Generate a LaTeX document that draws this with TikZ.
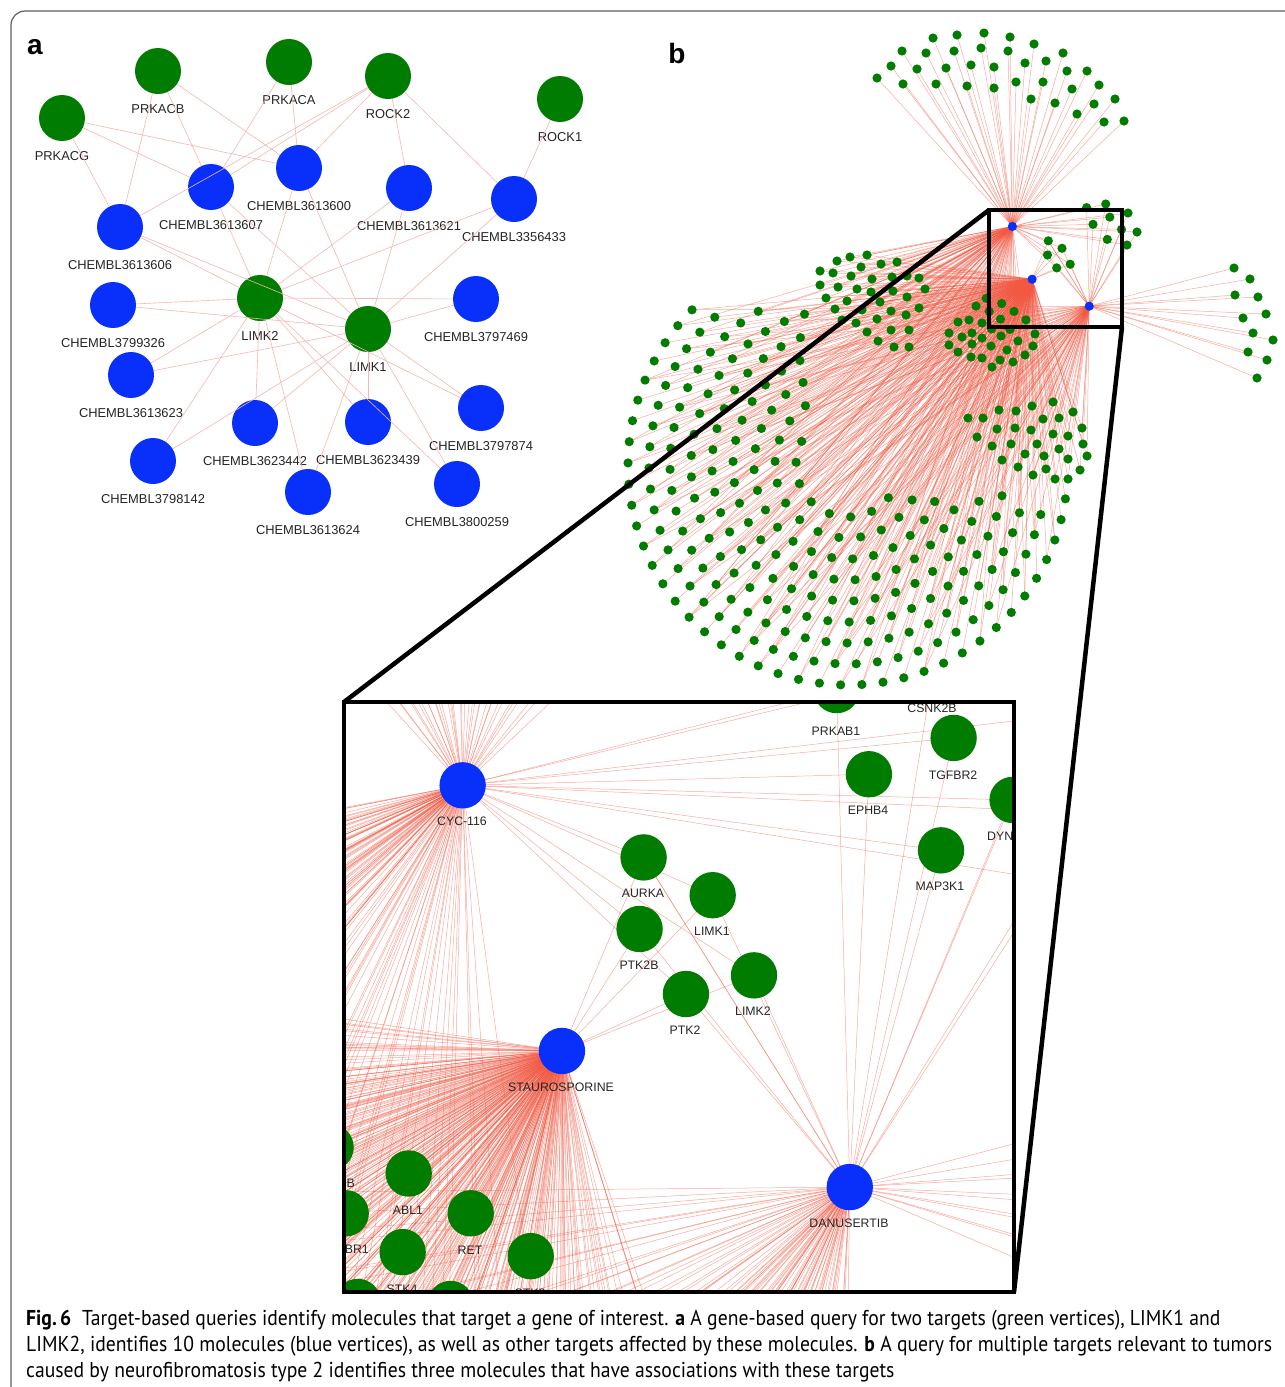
\documentclass[tikz,border=0pt]{standalone}
\usepackage{fontspec}
\setmainfont{Liberation Sans}
\newfontfamily\capfont{PT Sans}
\usepackage{graphicx}
\definecolor{gnode}{RGB}{0,124,0}
\definecolor{bnode}{RGB}{8,48,250}
\definecolor{aedgec}{RGB}{246,182,176}
\definecolor{bedgec}{RGB}{242,88,66}
\definecolor{labc}{RGB}{38,38,38}
\definecolor{framec}{RGB}{95,95,95}

\def\ListTop{877/78,891/66,902/51,933/38,957/35,984/33,1010/37,1034/44,1063/53,1087/71,1099/85,1115/99,1124/121,1104/122,1094/104,1077/114,1072/89,1067/71,1046/61,1025/63,1008/51,981/48,954/51,926/53,917/69,946/68,971/65,994/67,903/84,936/84,967/86,994/88,1016/82,1043/82,1031/99,1055/103}
\def\ListRC{1086.6/207.6,1105.7/204.0,1109.8/217.1,1093.0/224.3,1121.5/229.4,1107.3/239.4,1128/213,1137/232,1127/245}
\def\ListMid{1048.3/240.8,1062.0/248.3,1047.5/255.0,1070.2/264.2,1056.7/267.9}
\def\ListBL{986.2/298.3,1001.7/303.5,989.2/311.4,1014.0/311.4,1000.5/319.1,1025.9/319.9,991.6/329.0,1010.0/329.4}
\def\ListSix{976/306,958/322,969/320,982/323,949/333,962/337,972/333,982/338,1001/336,1018/341,1035/334,949/345,972/344,991/346,1007/350,1033/346,958/352,971/357,982/358,1000/360,1013/362,1025/355,992/367}
\def\ListFive{820/271,837/261,850/257,867/255,833/273,861/267,881/264,897/262,820/285,838/287,851/276,872/279,892/277,907/276,919/278,826/298,847/301,857/289,871/292,893/291,925/289,835/309,862/310,880/302,907/297,919/308,842/320,856/323,877/319,891/311,906/315,867/332,891/330,909/330,878/341,894/347,909/347}
\def\ListSeven{968/418,983/418,999/410,1016/411,1032/406,1053/402,1073/412,977/437,997/429,1015/428,1031/430,1043/419,1059/418,1082/428,992/446,1011/444,1037/444,1053/434,1068/436,1083/444,1002/460,1025/454,1044/456,1059/449,1068/459,1087/456,1018/467,1033/475,1046/469,1055/479,1068/479,1080/470}
\def\ListFR{1234/268,1250/279,1235/295,1258/297,1243/318,1266/314,1253/333,1273/340,1248/352,1267/360,1257/378}

% ring layout of the large fan
\newcommand\fanloop[1]{%
  \foreach \rr [count=\kk] in {220,199,178,157,136,115,94,73,52} {%
    \pgfmathtruncatemacro\nn{2*3.14159*\rr/21}%
    \foreach \jj in {1,...,\nn} {%
      \pgfmathsetmacro\ang{(\jj+0.5*mod(\kk,2))/\nn*360+5*\kk}%
      \pgfmathsetmacro\px{848+\rr*cos(\ang)}%
      \pgfmathsetmacro\py{465-\rr*sin(\ang)}%
      \pgfmathtruncatemacro\keep{(\py>=308)*(1-(\px>815)*(\py<495))}%
      \ifnum\keep=1 #1\fi
    }%
  }%
}
\newcommand\fanedge[1]{%
  \coordinate (#1f\kk-\jj) at (\px,\py);
  \draw[bedge] (#1h2) -- (#1f\kk-\jj);
  \pgfmathtruncatemacro\ma{mod(\jj,3)}%
  \ifnum\ma=0 \draw[bedge] (#1h1) -- (#1f\kk-\jj);\fi
  \pgfmathtruncatemacro\mb{mod(\jj+\kk,4)}%
  \ifnum\mb=0 \draw[bedge] (#1h3) -- (#1f\kk-\jj);\fi
}
\newcommand\listedges[4]{%
  \foreach \x/\y [count=\ii] in #2 {%
    \coordinate (#1#3\ii) at (\x,\y);
    \foreach \h in {#4} {\draw[bedge] (#1h\h) -- (#1#3\ii);}
  }%
}
\newcommand\listdots[3]{%
  \foreach \x/\y [count=\ii] in #2 {\fill[gdot] (#1#3\ii) circle (4.6);}%
}
\newcommand\bnet[1]{%
  \coordinate (#1h1) at (1012.4,226.5);
  \coordinate (#1h2) at (1032.1,279.2);
  \coordinate (#1h3) at (1089.2,306.2);
  \listedges{#1}{\ListTop}{t}{1}
  \listedges{#1}{\ListRC}{r}{1,3}
  \listedges{#1}{\ListMid}{m}{1,2,3}
  \listedges{#1}{\ListBL}{b}{2}
  \listedges{#1}{\ListSix}{s}{2}
  \listedges{#1}{\ListFive}{v}{1,2}
  \listedges{#1}{\ListSeven}{w}{2,3}
  \listedges{#1}{\ListFR}{q}{3}
  \draw[bedge] (#1h3) -- (#1m1);
  \fanloop{\fanedge{#1}}
  \listdots{#1}{\ListTop}{t}
  \listdots{#1}{\ListRC}{r}
  \listdots{#1}{\ListMid}{m}
  \listdots{#1}{\ListBL}{b}
  \listdots{#1}{\ListSix}{s}
  \listdots{#1}{\ListFive}{v}
  \listdots{#1}{\ListSeven}{w}
  \listdots{#1}{\ListFR}{q}
  \fanloop{\fill[gdot] (#1f\kk-\jj) circle (4.6);}
  \fill[bdot] (#1h1) circle (4.6);
  \fill[bdot] (#1h2) circle (4.6);
  \fill[bdot] (#1h3) circle (4.6);
}
\newcommand\anode[5]{%
  \node[#2] (#1) at (#3,#4) {};
  \node[lab] (#1-l) at (#3,#4+38) {#5};
}
\newdimen\capw
\newcommand\capfontsz{\capfont\fontsize{21.5}{25}\selectfont}
\newcommand\capone{\textbf{Fig.\,6}\hspace{0.55em}Target-based queries identify molecules that target a gene of interest. \textbf{a} A gene-based query for two targets (green vertices), LIMK1 and}
\newcommand\captwo{LIMK2, identifies 10 molecules (blue vertices), as well as other targets affected by these molecules. \textbf{b} A query for multiple targets relevant to tumors}
\newcommand\capthree{caused by neurofibromatosis type 2 identifies three molecules that have associations with these targets}

\begin{document}
\setbox0=\hbox{\capfontsz\captwo}
\global\capw=\wd0
\pgfmathsetmacro\capsc{1246/\the\capw}
\xdef\capsc{\capsc}
\begin{tikzpicture}[x=1pt,y=-1pt,
  gbig/.style={circle, fill=gnode, inner sep=0pt, minimum size=46pt},
  bbig/.style={circle, fill=bnode, inner sep=0pt, minimum size=46pt},
  lab/.style={font=\fontsize{12.9}{14}\selectfont, text=labc, inner sep=0pt},
  ilab/.style={font=\fontsize{12.3}{14}\selectfont, text=labc, inner sep=0pt},
  aedge/.style={draw=aedgec, line width=0.6pt},
  bedge/.style={draw=bedgec, line width=0.5pt, draw opacity=0.5},
  gdot/.style={fill=gnode},
  bdot/.style={fill=bnode},
  boxline/.style={draw=black, line width=4.5pt, line join=miter},
  letter/.style={font=\fontsize{28}{30}\selectfont\bfseries, inner sep=0pt},
  capt/.style={inner sep=0pt, anchor=base west}]
\useasboundingbox (0,0) rectangle (1285,1387);
\fill[white] (0,0) rectangle (1285,1387);
% frame
\draw[framec, line width=1.2pt, rounded corners=14pt] (1300,11) -- (11,11) -- (11,1400);

% ---------- panel a ----------
\node[letter] (la) at (35,47) {a};
\anode{pg}{gbig}{62}{118}{PRKACG}
\anode{pb}{gbig}{158}{71}{PRKACB}
\anode{pa}{gbig}{289}{62}{PRKACA}
\anode{rtwo}{gbig}{388}{76}{ROCK2}
\anode{rone}{gbig}{560}{99}{ROCK1}
\anode{c600}{bbig}{299}{168}{CHEMBL3613600}
\anode{c607}{bbig}{211}{187}{CHEMBL3613607}
\anode{c621}{bbig}{409}{188}{CHEMBL3613621}
\anode{c433}{bbig}{514}{199}{CHEMBL3356433}
\anode{c606}{bbig}{120}{227}{CHEMBL3613606}
\anode{ltwo}{gbig}{260}{298}{LIMK2}
\anode{lone}{gbig}{368}{329}{LIMK1}
\anode{c326}{bbig}{113}{305}{CHEMBL3799326}
\anode{c469}{bbig}{476}{299}{CHEMBL3797469}
\anode{c623}{bbig}{131}{375}{CHEMBL3613623}
\anode{c442}{bbig}{255}{423}{CHEMBL3623442}
\anode{c439}{bbig}{368}{422}{CHEMBL3623439}
\anode{c874}{bbig}{481}{408}{CHEMBL3797874}
\anode{c142}{bbig}{153}{461}{CHEMBL3798142}
\anode{c624}{bbig}{308}{492}{CHEMBL3613624}
\anode{c259}{bbig}{457}{484}{CHEMBL3800259}
\foreach \ea/\eb in {pg/c606,pg/c607,pg/c600,pb/c606,pb/c607,pb/c600,pa/c600,pa/c607,rtwo/c606,rtwo/c607,rtwo/c600,rtwo/c621,rtwo/c433,rone/c433}
  \draw[aedge] (\ea) -- (\eb);
\foreach \eb in {c600,c607,c621,c433,c606,c326,c469,c623,c442,c439,c874,c142,c624,c259} {
  \draw[aedge] (ltwo) -- (\eb);
  \draw[aedge] (lone) -- (\eb);
}

% ---------- panel b ----------
\node[letter] (lb) at (677,53) {b};
\bnet{M}

% inset
\coordinate (sbtl) at (989,210);
\coordinate (sbbr) at (1122,327);
\coordinate (ibtl) at (344,702);
\coordinate (ibbr) at (1014,1292);
\begin{scope}
  \clip (ibtl) rectangle (ibbr);
  \fill[white] (ibtl) rectangle (ibbr);
  \begin{scope}[shift={(344,702)}, scale=5.04, shift={(-989,-210)}]
    \bnet{Z}
  \end{scope}
  \node[ilab] (zl1) at (462,821) {CYC-116};
  \node[ilab] (zl2) at (561,1087) {STAUROSPORINE};
  \node[ilab] (zl3) at (849,1223) {DANUSERTIB};
  \node[ilab] (zl4) at (836,731) {PRKAB1};
  \node[ilab] (zl5) at (932,708) {CSNK2B};
  \node[ilab] (zl6) at (953,775) {TGFBR2};
  \node[ilab] (zl7) at (868,810) {EPHB4};
  \node[ilab, anchor=west] (zl8) at (987,836) {DYN};
  \node[ilab] (zl9) at (940,886) {MAP3K1};
  \node[ilab] (zl10) at (643,893) {AURKA};
  \node[ilab] (zl11) at (712,931) {LIMK1};
  \node[ilab] (zl12) at (639,965) {PTK2B};
  \node[ilab] (zl13) at (753,1011) {LIMK2};
  \node[ilab] (zl14) at (685,1030) {PTK2};
  \node[ilab] (zl15) at (408,1210) {ABL1};
  \node[ilab] (zl16) at (470,1250) {RET};
  \node[ilab, anchor=east] (zl17) at (355,1183) {B};
  \node[ilab, anchor=east] (zl18) at (369,1249) {BR1};
  \node[ilab] (zl19) at (402,1289) {STK4};
  \node[ilab] (zl20) at (530,1293) {STK3};
\end{scope}
\draw[boxline] (sbtl) rectangle (sbbr);
\draw[boxline] (ibtl) rectangle (ibbr);
\draw[boxline] (sbtl) -- (ibtl);
\draw[boxline] (sbbr) -- (ibbr);

% ---------- caption ----------
\node[capt] (cap1) at (26,1325) {\scalebox{\capsc}[1]{\capfontsz\capone}};
\node[capt] (cap2) at (26,1351) {\scalebox{\capsc}[1]{\capfontsz\captwo}};
\node[capt] (cap3) at (26,1377) {\scalebox{\capsc}[1]{\capfontsz\capthree}};
\end{tikzpicture}
\end{document}
